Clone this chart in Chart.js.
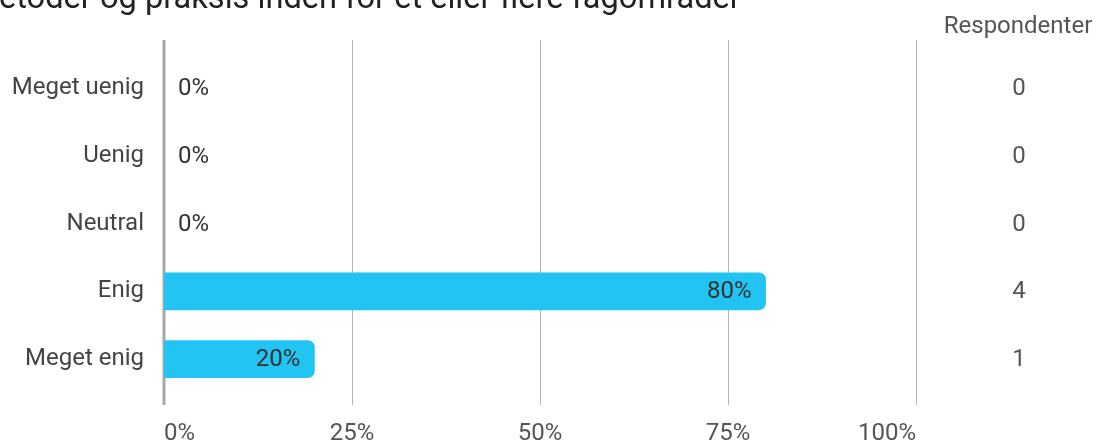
<!DOCTYPE html>
<html>
<head>
<meta charset="utf-8">
<script src="https://cdn.jsdelivr.net/npm/chart.js@4"></script>
<style>
  html, body { margin: 0; padding: 0; background: #fff; }
  #wrap { position: relative; width: 1110px; height: 441px; overflow: hidden; }
</style>
</head>
<body>
<div id="wrap"><canvas id="chart" width="1110" height="441"></canvas></div>
<script>
// Survey answers (title is cut off at the top in the original)
const titleText = 'etoder og praksis inden for et eller flere fagområder';
const categories = ['Meget uenig', 'Uenig', 'Neutral', 'Enig', 'Meget enig'];
const percents = [0, 0, 0, 80, 20];
const respondents = [0, 0, 0, 4, 1];
const xTicks = [0, 25, 50, 75, 100];
const countHeader = 'Respondenter';

const FONT = 'Roboto, "Noto Sans", sans-serif';
const BAR_COLOR = '#22C4F3';

// Grid lines, value labels, respondent counts and the clipped title
const overlayPlugin = {
    id: 'overlay',
    beforeDatasetsDraw(chart) {
        const ctx = chart.ctx;
        const x = chart.scales.x;
        ctx.save();
        xTicks.forEach(t => {
            const px = Math.round(x.getPixelForValue(t));
            ctx.strokeStyle = t === 0 ? '#a8a8a8' : '#b4b4b4';
            ctx.lineWidth = t === 0 ? 3 : 1;
            const off = t === 0 ? 0 : 0.5;
            ctx.beginPath();
            ctx.moveTo(px + off, 40);
            ctx.lineTo(px + off, 405);
            ctx.stroke();
        });
        ctx.restore();
    },
    afterDatasetsDraw(chart) {
        const ctx = chart.ctx;
        const x = chart.scales.x;
        const y = chart.scales.y;
        ctx.save();
        ctx.font = '24px ' + FONT;
        ctx.textBaseline = 'middle';

        // percent labels
        chart.getDatasetMeta(0).data.forEach((bar, i) => {
            const v = percents[i];
            ctx.fillStyle = '#333';
            if (v === 0) {
                ctx.textAlign = 'left';
                ctx.fillText(v + '%', x.getPixelForValue(0) + 14, bar.y + 1);
            } else {
                ctx.textAlign = 'right';
                ctx.fillText(v + '%', bar.x - 14, bar.y + 1);
            }
        });

        // respondent counts
        ctx.fillStyle = '#555';
        ctx.textAlign = 'center';
        respondents.forEach((n, i) => {
            ctx.fillText(String(n), 1019, y.getPixelForValue(i) + 1);
        });
        ctx.fillText(countHeader, 1018, 27);

        // title, clipped by the top edge
        ctx.font = '32.6px ' + FONT;
        ctx.fillStyle = '#222';
        ctx.textAlign = 'left';
        ctx.textBaseline = 'alphabetic';
        ctx.fillText(titleText, -1, 8);
        ctx.restore();
    }
};

new Chart(document.getElementById('chart').getContext('2d'), {
    type: 'bar',
    data: {
        labels: categories,
        datasets: [{
            data: percents,
            backgroundColor: percents.map(v => v > 0 ? BAR_COLOR : 'rgba(0,0,0,0)'),
            borderRadius: 7,
            borderSkipped: 'start',
            barThickness: 37
        }]
    },
    options: {
        indexAxis: 'y',
        responsive: false,
        animation: false,
        layout: { padding: { left: 0, right: 194, top: 54, bottom: 0 } },
        plugins: {
            legend: { display: false },
            tooltip: { enabled: false }
        },
        scales: {
            x: {
                min: 0,
                max: 100,
                border: { display: false },
                grid: { display: false },
                afterBuildTicks(axis) {
                    axis.ticks = xTicks.map(v => ({ value: v }));
                },
                afterFit(axis) { axis.height = 48; },
                ticks: {
                    align: 'inner',
                    padding: 19,
                    color: '#555',
                    font: { family: FONT, size: 24 },
                    callback: v => v + '%'
                }
            },
            y: {
                border: { display: false },
                grid: { display: false },
                afterFit(axis) { axis.width = 164; },
                ticks: {
                    padding: 12,
                    color: '#444',
                    font: { family: FONT, size: 24 }
                }
            }
        }
    },
    plugins: [overlayPlugin]
});
</script>
</body>
</html>
